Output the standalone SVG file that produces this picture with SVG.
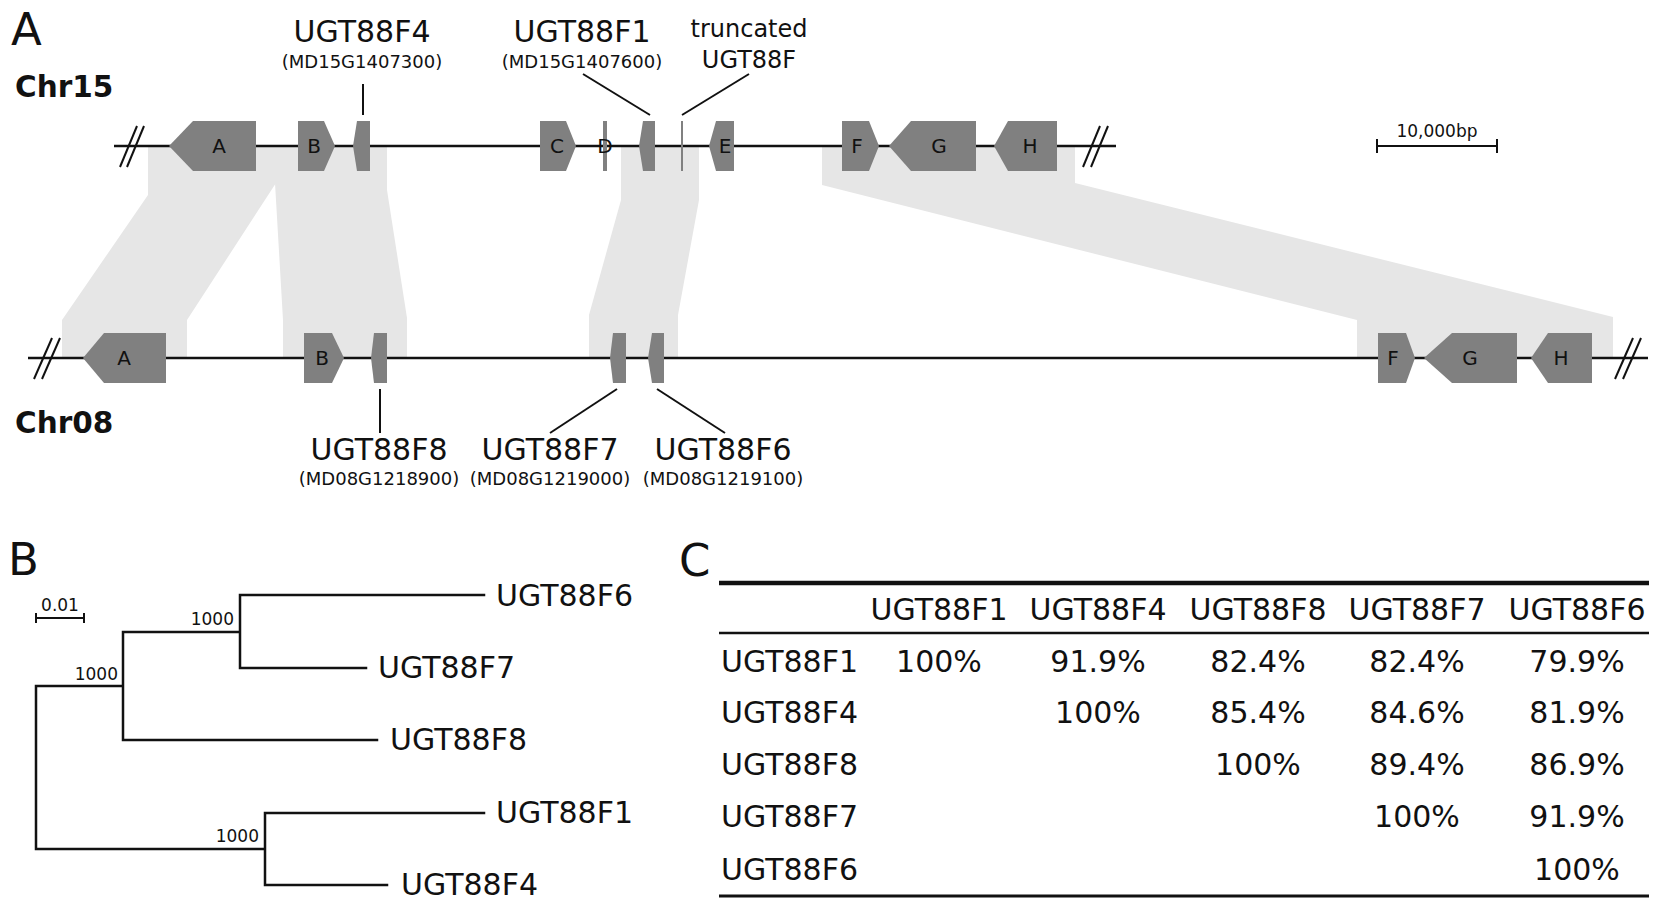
<svg xmlns="http://www.w3.org/2000/svg" width="1662" height="912" viewBox="0 0 1662 912">
<style>
text{font-family:"DejaVu Sans",Verdana,sans-serif;fill:#111}
.panel{font-size:45px}
.chr{font-size:29.5px;font-weight:bold}
.gname{font-size:30px;text-anchor:middle}
.tname{font-size:24px;text-anchor:middle}
.gid{font-size:18px;text-anchor:middle}
.glet{font-size:20px;text-anchor:middle}
.gene{fill:#808080}
.band{fill:#e6e6e6}
.chrline{stroke:#111;stroke-width:2.5;fill:none}
.ptr{stroke:#111;stroke-width:2;fill:none}
.sl{stroke:#111;stroke-width:2;fill:none}
.tree{stroke:#111;stroke-width:2.5;fill:none;stroke-linecap:square}
.boot{font-size:17px;text-anchor:end}
.leaf{font-size:30px}
.tbl{font-size:30px;text-anchor:middle}
.rowl{font-size:30px}
</style>
<rect width="1662" height="912" fill="#fff"/>

<!-- Panel A -->
<text class="panel" x="11" y="45">A</text>
<text class="chr" x="15" y="97">Chr15</text>
<text class="chr" x="15" y="433">Chr08</text>

<g id="synteny">
<polygon class="band" points="148,146 276,146 276,183 187,320 187,358 62,358 62,320 148,195"/>
<polygon class="band" points="274,146 387,146 387,190 407,318 407,358 283,358 283,320 275,183"/>
<polygon class="band" points="621,146 699,146 699,200 678,315 678,358 589,358 589,315 621,200"/>
<polygon class="band" points="822,146 1075,146 1075,183 1613,317 1613,358 1357,358 1357,320 822,185"/>
</g>

<g id="chr15">
<line class="chrline" x1="114" y1="146" x2="1116" y2="146"/>
<line class="sl" x1="120" y1="167" x2="137" y2="126"/>
<line class="sl" x1="127" y1="167" x2="144" y2="126"/>
<line class="sl" x1="1083" y1="167" x2="1100" y2="126"/>
<line class="sl" x1="1091" y1="167" x2="1108" y2="126"/>
</g>
<g id="chr08">
<line class="chrline" x1="28" y1="358" x2="1648" y2="358"/>
<line class="sl" x1="34" y1="379" x2="52" y2="338"/>
<line class="sl" x1="42" y1="379" x2="60" y2="338"/>
<line class="sl" x1="1615" y1="379" x2="1633" y2="338"/>
<line class="sl" x1="1623" y1="379" x2="1641" y2="338"/>
</g>

<g id="connectors">
<line class="ptr" x1="363" y1="84" x2="363" y2="115"/>
<line class="ptr" x1="650" y1="115" x2="583" y2="74"/>
<line class="ptr" x1="682" y1="115" x2="749" y2="74"/>
<line class="ptr" x1="380" y1="389" x2="380" y2="433"/>
<line class="ptr" x1="617" y1="389" x2="550" y2="433"/>
<line class="ptr" x1="657" y1="389" x2="725" y2="433"/>
</g>

<!-- Chr15 genes -->
<g id="c15-A"><polygon class="gene" points="169,146 193,121 256,121 256,171 193,171"/><text class="glet" x="219" y="153">A</text></g>
<g id="c15-B"><polygon class="gene" points="298,121 324,121 335,146 324,171 298,171"/><text class="glet" x="314" y="153">B</text></g>
<g id="c15-F4"><polygon class="gene" points="357,121 370,121 370,171 357,171 353,146"/>
<text class="gname" x="362" y="42">UGT88F4</text><text class="gid" x="362" y="68">(MD15G1407300)</text></g>
<g id="c15-C"><polygon class="gene" points="540,121 566,121 576,146 566,171 540,171"/><text class="glet" x="557" y="153">C</text></g>
<g id="c15-D"><rect class="gene" x="603" y="121" width="4" height="50"/><text class="glet" x="605" y="153">D</text></g>
<g id="c15-F1"><polygon class="gene" points="643,121 655,121 655,171 643,171 639,146"/>
<text class="gname" x="582" y="42">UGT88F1</text><text class="gid" x="582" y="68">(MD15G1407600)</text></g>
<g id="c15-trunc"><line x1="682" y1="121" x2="682" y2="171" stroke="#808080" stroke-width="2"/>
<text class="tname" x="749" y="37">truncated</text><text class="tname" x="749" y="68">UGT88F</text></g>
<g id="c15-E"><polygon class="gene" points="716,121 734,121 734,171 716,171 709,146"/><text class="glet" x="725" y="153">E</text></g>
<g id="c15-F"><polygon class="gene" points="842,121 869,121 879,146 869,171 842,171"/><text class="glet" x="857" y="153">F</text></g>
<g id="c15-G"><polygon class="gene" points="889,146 911,121 976,121 976,171 911,171"/><text class="glet" x="939" y="153">G</text></g>
<g id="c15-H"><polygon class="gene" points="994,146 1008,121 1057,121 1057,171 1008,171"/><text class="glet" x="1030" y="153">H</text></g>

<!-- Chr08 genes -->
<g id="c08-A"><polygon class="gene" points="83,358 104,333 166,333 166,383 104,383"/><text class="glet" x="124" y="365">A</text></g>
<g id="c08-B"><polygon class="gene" points="304,333 332,333 344,358 332,383 304,383"/><text class="glet" x="322" y="365">B</text></g>
<g id="c08-F8"><polygon class="gene" points="374,333 387,333 387,383 374,383 371,358"/>
<text class="gname" x="379" y="460">UGT88F8</text><text class="gid" x="379" y="485">(MD08G1218900)</text></g>
<g id="c08-F7"><polygon class="gene" points="613,333 626,333 626,383 613,383 610,358"/>
<text class="gname" x="550" y="460">UGT88F7</text><text class="gid" x="550" y="485">(MD08G1219000)</text></g>
<g id="c08-F6"><polygon class="gene" points="652,333 664,333 664,383 652,383 648,358"/>
<text class="gname" x="723" y="460">UGT88F6</text><text class="gid" x="723" y="485">(MD08G1219100)</text></g>
<g id="c08-F"><polygon class="gene" points="1378,333 1406,333 1415,358 1406,383 1378,383"/><text class="glet" x="1393" y="365">F</text></g>
<g id="c08-G"><polygon class="gene" points="1424,358 1452,333 1517,333 1517,383 1452,383"/><text class="glet" x="1470" y="365">G</text></g>
<g id="c08-H"><polygon class="gene" points="1531,358 1548,333 1592,333 1592,383 1548,383"/><text class="glet" x="1561" y="365">H</text></g>

<g id="scalebar">
<line class="ptr" x1="1377" y1="146" x2="1497" y2="146"/>
<line class="ptr" x1="1377" y1="139" x2="1377" y2="153"/>
<line class="ptr" x1="1497" y1="139" x2="1497" y2="153"/>
<text x="1437" y="137" style="font-size:17px;text-anchor:middle">10,000bp</text>
</g>

<!-- Panel B -->
<text class="panel" x="8" y="575">B</text>
<g id="tree-scale">
<line class="ptr" x1="36" y1="618" x2="84" y2="618"/>
<line class="ptr" x1="36" y1="613" x2="36" y2="623"/>
<line class="ptr" x1="84" y1="613" x2="84" y2="623"/>
<text x="60" y="611" style="font-size:17px;text-anchor:middle">0.01</text>
</g>
<g id="tree">
<path class="tree" d="M36,686 V849 M36,686 H123 M123,632 V740 M123,632 H240 M240,595 V668 M240,595 H484 M240,668 H366 M123,740 H377 M36,849 H265 M265,813 V885 M265,813 H484 M265,885 H387"/>
<text class="boot" x="234" y="625">1000</text>
<text class="boot" x="118" y="680">1000</text>
<text class="boot" x="259" y="842">1000</text>
</g>
<g id="leaf-F6"><text class="leaf" x="496" y="606">UGT88F6</text></g>
<g id="leaf-F7"><text class="leaf" x="378" y="678">UGT88F7</text></g>
<g id="leaf-F8"><text class="leaf" x="390" y="750">UGT88F8</text></g>
<g id="leaf-F1"><text class="leaf" x="496" y="823">UGT88F1</text></g>
<g id="leaf-F4"><text class="leaf" x="401" y="895">UGT88F4</text></g>

<!-- Panel C -->
<text class="panel" x="679" y="576">C</text>
<g id="table">
<line x1="719" y1="583" x2="1649" y2="583" stroke="#111" stroke-width="4.5"/>
<line x1="719" y1="633" x2="1649" y2="633" stroke="#111" stroke-width="2.3"/>
<line x1="719" y1="896" x2="1649" y2="896" stroke="#111" stroke-width="3"/>
<text class="tbl" x="939" y="620">UGT88F1</text>
<text class="tbl" x="1098" y="620">UGT88F4</text>
<text class="tbl" x="1258" y="620">UGT88F8</text>
<text class="tbl" x="1417" y="620">UGT88F7</text>
<text class="tbl" x="1577" y="620">UGT88F6</text>
<text class="rowl" x="721" y="672">UGT88F1</text>
<text class="rowl" x="721" y="723">UGT88F4</text>
<text class="rowl" x="721" y="775">UGT88F8</text>
<text class="rowl" x="721" y="827">UGT88F7</text>
<text class="rowl" x="721" y="880">UGT88F6</text>
<text class="tbl" x="939" y="672">100%</text>
<text class="tbl" x="1098" y="672">91.9%</text>
<text class="tbl" x="1258" y="672">82.4%</text>
<text class="tbl" x="1417" y="672">82.4%</text>
<text class="tbl" x="1577" y="672">79.9%</text>
<text class="tbl" x="1098" y="723">100%</text>
<text class="tbl" x="1258" y="723">85.4%</text>
<text class="tbl" x="1417" y="723">84.6%</text>
<text class="tbl" x="1577" y="723">81.9%</text>
<text class="tbl" x="1258" y="775">100%</text>
<text class="tbl" x="1417" y="775">89.4%</text>
<text class="tbl" x="1577" y="775">86.9%</text>
<text class="tbl" x="1417" y="827">100%</text>
<text class="tbl" x="1577" y="827">91.9%</text>
<text class="tbl" x="1577" y="880">100%</text>
</g>
</svg>
